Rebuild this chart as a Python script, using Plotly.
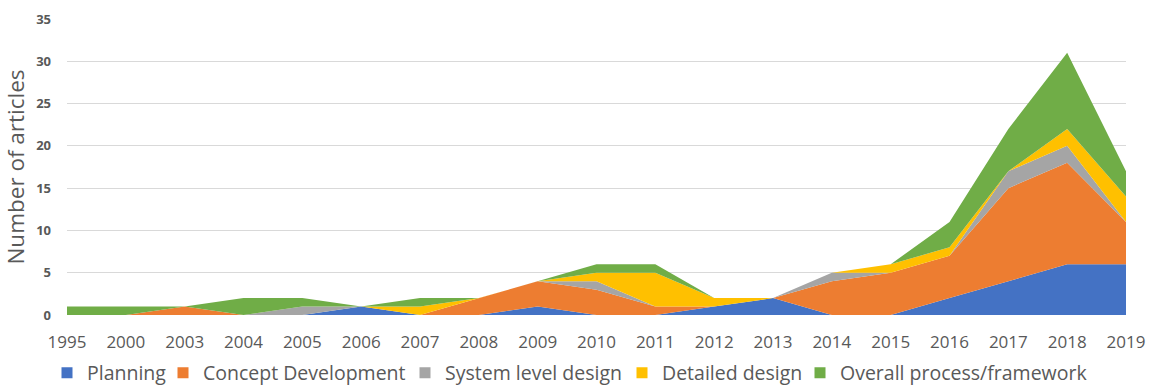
import plotly.graph_objects as go

years = ["1995", "2000", "2003", "2004", "2005", "2006", "2007", "2008", "2009", "2010",
         "2011", "2012", "2013", "2014", "2015", "2016", "2017", "2018", "2019"]
planning = [0, 0, 0, 0, 0, 1, 0, 0, 1, 0, 0, 1, 2, 0, 0, 2, 4, 6, 6]
concept = [0, 0, 1, 0, 0, 0, 0, 2, 3, 3, 1, 0, 0, 4, 5, 5, 11, 12, 5]
system = [0, 0, 0, 0, 1, 0, 0, 0, 0, 1, 0, 0, 0, 1, 0, 0, 2, 2, 0]
detailed = [0, 0, 0, 0, 0, 0, 1, 0, 0, 1, 4, 1, 0, 0, 1, 1, 0, 2, 3]
overall = [1, 1, 0, 2, 1, 0, 1, 0, 0, 1, 1, 0, 0, 0, 0, 3, 5, 9, 3]

series_names = ["Planning", "Concept Development", "System level design",
                "Detailed design", "Overall process/framework"]
series_values = [planning, concept, system, detailed, overall]
colors = ["#4472C4", "#ED7D31", "#A5A5A5", "#FFC000", "#70AD47"]

W, H = 1151, 388
FONT = "Open Sans"
TXT = "#595959"

fig = go.Figure()
for name, vals, col in zip(series_names, series_values, colors):
    fig.add_trace(go.Scatter(
        x=years, y=vals, name=name, stackgroup="one", mode="lines",
        line=dict(width=0, color=col), fillcolor=col, showlegend=False,
        hoverinfo="x+y+name"))

# legend entries (square markers), each in its own legend for exact placement
text_starts = [87, 203, 445, 662, 840]
legend_keys = ["legend", "legend2", "legend3", "legend4", "legend5"]
for name, col, key in zip(series_names, colors, legend_keys):
    fig.add_trace(go.Scatter(
        x=[None], y=[None], mode="markers", name=name, legend=key,
        marker=dict(symbol="square", size=11, color=col), showlegend=True))

legend_layouts = {}
for key, ts in zip(legend_keys, text_starts):
    legend_layouts[key] = dict(
        xref="container", yref="container", x=(ts - 40) / W, y=1 - 373 / H,
        xanchor="left", yanchor="middle", orientation="h",
        bgcolor="rgba(0,0,0,0)", borderwidth=0,
        font=dict(family=FONT, size=19.5, color=TXT),
        itemclick=False, itemdoubleclick=False)

fig.update_layout(
    width=W, height=H,
    margin=dict(l=67, r=25, t=19, b=73, pad=0, autoexpand=False),
    plot_bgcolor="white", paper_bgcolor="white",
    font=dict(family=FONT, color=TXT),
    xaxis=dict(
        type="category", range=[0, len(years) - 1], showgrid=False, zeroline=False,
        showline=False, ticks="", tickfont=dict(family=FONT, size=17, color=TXT),
        ticklabelstandoff=15, fixedrange=True, automargin=False),
    yaxis=dict(
        range=[0, 35], dtick=5, tick0=0, showgrid=True, gridcolor="#D9D9D9", gridwidth=1,
        zeroline=False, showline=False, ticks="",
        tickfont=dict(family=FONT, size=13, color=TXT, weight="bold"),
        ticklabelstandoff=15, fixedrange=True, automargin=False,
        title=dict(text="Number of articles", font=dict(family=FONT, size=22.5, color=TXT))),
    hovermode="x unified",
    **legend_layouts,
)

fig.write_html("out.html")
